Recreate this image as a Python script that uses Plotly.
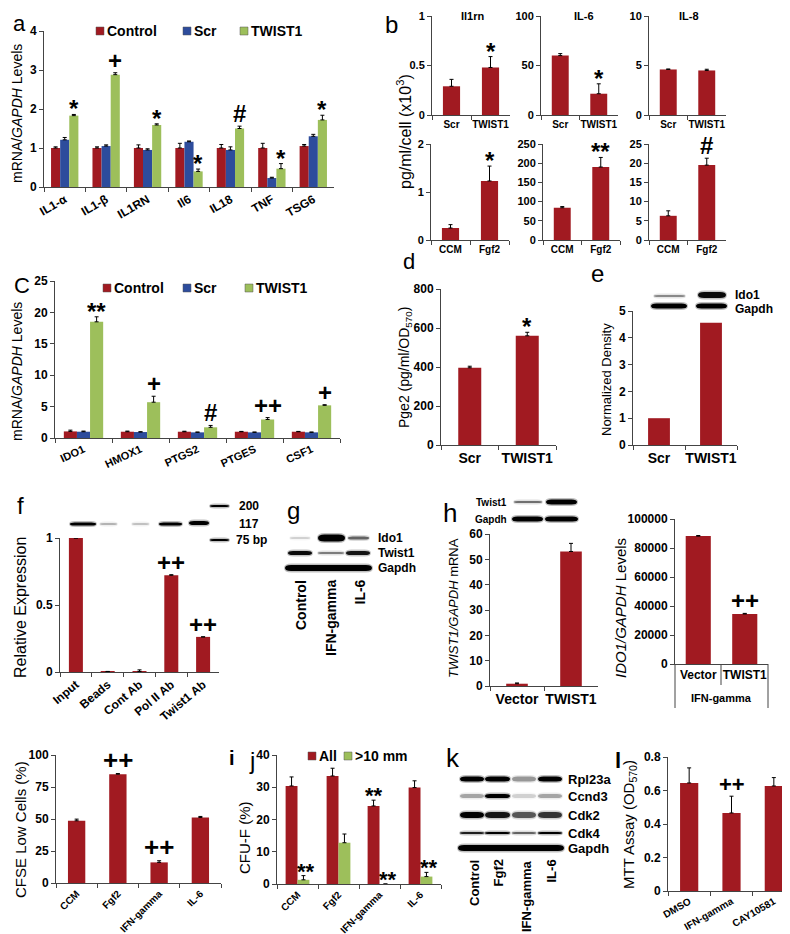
import plotly.graph_objects as go

W, H = 790, 934
FONT = "Arial, Liberation Sans, sans-serif"
RED = "#a11a21"
BLUE = "#2d4c9c"
GREEN = "#9dbf5b"
AX = "#444444"

# ---------------- data ----------------
a_cats = ["IL1-α", "IL1-β", "IL1RN", "Il6", "IL18", "TNF", "TSG6"]
a_control = [1.0, 1.0, 1.0, 1.0, 1.0, 1.0, 1.05]
a_control_err = [0.03, 0.03, 0.08, 0.12, 0.09, 0.12, 0.04]
a_scr = [1.21, 1.05, 0.95, 1.16, 0.95, 0.23, 1.3]
a_scr_err = [0.06, 0.03, 0.03, 0.02, 0.08, 0.02, 0.05]
a_twist = [1.83, 2.88, 1.59, 0.4, 1.5, 0.47, 1.72]
a_twist_err = [0.03, 0.05, 0.03, 0.06, 0.06, 0.13, 0.12]
a_marks = ["*", "+", "*", "*", "#", "*", "*"]
a_legend = ["Control", "Scr", "TWIST1"]

b_top_cats = ["Scr", "TWIST1"]
b_bot_cats = ["CCM", "Fgf2"]
b_il1rn_top = [0.29, 0.48]
b_il1rn_top_err = [0.07, 0.11]
b_il6_top = [60, 21.5]
b_il6_top_err = [2, 10]
b_il8_top = [4.6, 4.5]
b_il8_top_err = [0.05, 0.12]
b_il1rn_bot = [0.25, 1.23]
b_il1rn_bot_err = [0.07, 0.31]
b_il6_bot = [84, 190]
b_il6_bot_err = [3, 25]
b_il8_bot = [6.3, 19.5]
b_il8_bot_err = [1.3, 1.8]

c_cats = ["IDO1", "HMOX1", "PTGS2", "PTGES", "CSF1"]
c_control = [1.05, 1.0, 1.0, 1.0, 1.0]
c_control_err = [0.2, 0.1, 0.08, 0.05, 0.05]
c_scr = [1.0, 0.95, 0.9, 0.9, 0.9]
c_scr_err = [0.1, 0.05, 0.05, 0.05, 0.05]
c_twist = [18.5, 5.7, 1.7, 2.95, 5.2]
c_twist_err = [0.8, 0.95, 0.3, 0.3, 0.1]
c_marks = ["**", "+", "#", "++", "+"]

d_cats = ["Scr", "TWIST1"]
d_vals = [396, 560]
d_err = [8, 18]

e_cats = ["Scr", "TWIST1"]
e_vals = [1.0, 4.56]

f_cats = ["Input", "Beads", "Cont Ab", "Pol II Ab", "Twist1 Ab"]
f_vals = [1.0, 0.004, 0.004, 0.722, 0.262]
f_err = [0.0, 0.0, 0.012, 0.004, 0.0]

h1_cats = ["Vector", "TWIST1"]
h1_vals = [0.9, 53.1]
h1_err = [0.3, 3.2]
h2_cats = ["Vector", "TWIST1"]
h2_vals = [88200, 34500]
h2_err = [400, 400]

i_cats = ["CCM", "Fgf2", "IFN-gamma", "IL-6"]
i_vals = [48.6, 85.0, 16.1, 51.2]
i_err = [1.3, 0.5, 1.3, 0.8]

j_cats = ["CCM", "Fgf2", "IFN-gamma", "IL-6"]
j_all = [30.4, 33.5, 24.2, 29.9]
j_all_err = [2.8, 2.4, 1.8, 2.1]
j_big = [1.3, 12.8, 0.0, 2.3]
j_big_err = [1.3, 2.7, 0.0, 1.3]
j_legend = ["All", ">10 mm"]

l_cats = ["DMSO", "IFN-gamma", "CAY10581"]
l_vals = [0.645, 0.466, 0.627]
l_err = [0.09, 0.1, 0.05]

# ---------------- helpers ----------------
fig = go.Figure()
layout = {}
ann = []
shapes = []


def xr(n):
    return "x" if n == 1 else f"x{n}"


def yr(n):
    return "y" if n == 1 else f"y{n}"


def axes(n, x0, x1, ytop, ybot, cats, yrange, tickvals, xfont=11, yfont=11,
         tickangle=0, tickformat=None, xticks="outside"):
    kx = "xaxis" if n == 1 else f"xaxis{n}"
    ky = "yaxis" if n == 1 else f"yaxis{n}"
    layout[kx] = dict(domain=[x0 / W, x1 / W], anchor=yr(n), type="category",
                      categoryorder="array", categoryarray=cats,
                      range=[-0.5, len(cats) - 0.5], showline=True, linecolor=AX,
                      linewidth=1, ticks=xticks, tickson="boundaries", ticklen=4,
                      tickcolor=AX, tickangle=tickangle, showgrid=False, zeroline=False,
                      automargin=False, fixedrange=True,
                      tickfont=dict(family=FONT, size=xfont, color="black", weight="bold"))
    layout[ky] = dict(domain=[1 - ybot / H, 1 - ytop / H], anchor=xr(n), range=yrange,
                      tickvals=tickvals, showline=True, linecolor=AX, linewidth=1,
                      ticks="outside", ticklen=4, tickcolor=AX, showgrid=False,
                      zeroline=False, automargin=False, fixedrange=True,
                      tickformat=tickformat,
                      tickfont=dict(family=FONT, size=yfont, color="black", weight="bold"))


def bar(n, cats, vals, errs, color, width, offset=None):
    ed = dict(visible=False)
    if errs is not None:
        ed = dict(type="data", array=errs, arrayminus=[0] * len(errs), symmetric=False,
                  color="black", thickness=1, width=2, visible=True)
    fig.add_trace(go.Bar(x=cats, y=vals, xaxis=xr(n), yaxis=yr(n), width=width,
                         offset=offset, showlegend=False,
                         marker=dict(color=color, line=dict(width=0)), error_y=ed))


SHIFT = {"*": -10, "**": -10, "+": -3, "++": -3, "#": -3}


def mark(n, x, y, text, size=22):
    ann.append(dict(text=text, x=x, y=y, xref=xr(n), yref=yr(n), showarrow=False,
                    xanchor="center", yanchor="bottom", yshift=SHIFT.get(text, -3),
                    font=dict(family=FONT, size=size, color="black", weight="bold")))


def T(text, x, y, size=12, bold=True, xa="center", ya="middle", angle=0):
    ann.append(dict(text=text, x=x / W, y=1 - y / H, xref="paper", yref="paper",
                    showarrow=False, xanchor=xa, yanchor=ya, textangle=angle,
                    font=dict(family=FONT, size=size, color="black",
                              weight="bold" if bold else "normal")))


def X(v):
    return v / W


def Y(v):
    return 1 - v / H


def lens(x0, x1, yc, h):
    r = min(h / 2 + 2, (x1 - x0) / 4)
    y0, y1 = yc - h / 2, yc + h / 2
    return (f"M{X(x0 + r)},{Y(y0)} L{X(x1 - r)},{Y(y0)} "
            f"Q{X(x1 + 1)},{Y(y0)} {X(x1 + 1)},{Y(yc)} "
            f"Q{X(x1 + 1)},{Y(y1)} {X(x1 - r)},{Y(y1)} "
            f"L{X(x0 + r)},{Y(y1)} Q{X(x0 - 1)},{Y(y1)} {X(x0 - 1)},{Y(yc)} "
            f"Q{X(x0 - 1)},{Y(y0)} {X(x0 + r)},{Y(y0)} Z")


def band(x0, x1, yc, h, op=1.0):
    shapes.append(dict(type="path", xref="paper", yref="paper", path=lens(x0 - 1, x1 + 1, yc, h + 3),
                       fillcolor=f"rgba(0,0,0,{op * 0.25:.3f})", line=dict(width=0)))
    shapes.append(dict(type="path", xref="paper", yref="paper", path=lens(x0, x1, yc, h),
                       fillcolor=f"rgba(0,0,0,{op:.3f})", line=dict(width=0)))


def vline(x, y0, y1):
    shapes.append(dict(type="line", xref="paper", yref="paper", x0=X(x), x1=X(x),
                       y0=Y(y0), y1=Y(y1), line=dict(color=AX, width=1)))


def legend_item(x, y, color, text, size=14):
    shapes.append(dict(type="rect", xref="paper", yref="paper", x0=X(x), x1=X(x + 8),
                       y0=Y(y + 4), y1=Y(y - 4), fillcolor=color,
                       line=dict(width=0.5, color="#555555")))
    T(text, x + 9, y, size, True, xa="left")


# ---------------- panel a ----------------
axes(1, 36, 326, 23, 179, a_cats, [0, 4], [0, 1, 2, 3, 4], xfont=12, yfont=12, tickangle=-30)
bw = 0.22
bar(1, a_cats, a_control, a_control_err, RED, bw, -1.5 * bw)
bar(1, a_cats, a_scr, a_scr_err, BLUE, bw, -0.5 * bw)
bar(1, a_cats, a_twist, a_twist_err, GREEN, bw, 0.5 * bw)
for k, m in enumerate(a_marks):
    mark(1, k + bw, a_twist[k] + a_twist_err[k], m, 24)
for xx, col, lab in zip([88, 175, 232], [RED, BLUE, GREEN], a_legend):
    legend_item(xx, 23, col, lab)
T("a", 11, 15, 22, False)
T("mRNA/<i>GAPDH</i> Levels", 9, 106, 14, False, angle=-90)

# ---------------- panel b ----------------
bwb = 0.44
panels_b = [
    (2, 424, 502, 8, 107, b_top_cats, [0, 1], [0, 0.5, 1], b_il1rn_top, b_il1rn_top_err, "*"),
    (3, 533, 610, 8, 107, b_top_cats, [0, 100], [0, 50, 100], b_il6_top, b_il6_top_err, "*"),
    (4, 641, 718, 8, 107, b_top_cats, [0, 10], [0, 5, 10], b_il8_top, b_il8_top_err, None),
    (5, 423, 501, 136, 232, b_bot_cats, [0, 2], [0, 1, 2], b_il1rn_bot, b_il1rn_bot_err, "*"),
    (6, 535, 612, 136, 232, b_bot_cats, [0, 250], [0, 50, 100, 150, 200, 250], b_il6_bot, b_il6_bot_err, "**"),
    (7, 641, 718, 136, 232, b_bot_cats, [0, 25], [0, 5, 10, 15, 20, 25], b_il8_bot, b_il8_bot_err, "#"),
]
for n, x0, x1, yt, yb, cats, rng, tv, vals, errs, m in panels_b:
    axes(n, x0, x1, yt, yb, cats, rng, tv, xfont=10, yfont=11)
    bar(n, cats, vals, errs, RED, bwb)
    if m:
        mark(n, 1, vals[1] + errs[1], m, 24)
T("Il1rn", 465, 8, 11)
T("IL-6", 576, 8, 11)
T("IL-8", 681, 8, 11)
T("b", 383, 16, 24, False)
T("pg/ml/cell (x10<sup>3</sup>)", 396, 124, 16, False, angle=-90)

# ---------------- panel c ----------------
axes(8, 47, 332, 273, 430, c_cats, [0, 25], [0, 5, 10, 15, 20, 25], xfont=11, yfont=12, tickangle=-25)
cw = 0.23
bar(8, c_cats, c_control, c_control_err, RED, cw, -1.5 * cw)
bar(8, c_cats, c_scr, c_scr_err, BLUE, cw, -0.5 * cw)
bar(8, c_cats, c_twist, c_twist_err, GREEN, cw, 0.5 * cw)
for k, m in enumerate(c_marks):
    mark(8, k + cw, c_twist[k] + c_twist_err[k], m, 24)
for xx, col, lab in zip([95, 175, 237], [RED, BLUE, GREEN], a_legend):
    legend_item(xx, 280, col, lab)
T("C", 14, 277, 22, False)
T("mRNA/<i>GAPDH</i> Levels", 9, 364, 14, False, angle=-90)

# ---------------- panel d ----------------
axes(9, 433, 548, 281, 437, d_cats, [0, 800], [0, 200, 400, 600, 800], xfont=14, yfont=12)
bar(9, d_cats, d_vals, d_err, RED, 0.4)
mark(9, 1, d_vals[1] + d_err[1], "*", 24)
T("d", 401, 253, 22, False)
T("Pge2 (pg/ml/OD<sub>570</sub>)", 397, 360, 14, False, angle=-90)

# ---------------- panel e ----------------
axes(10, 625, 729, 303, 437, e_cats, [0, 5], [0, 1, 2, 3, 4, 5], xfont=14, yfont=12)
bar(10, e_cats, e_vals, None, RED, 0.42)
T("e", 589, 266, 24, False)
T("Normalized Density", 598, 372, 13, False, angle=-90)
band(647, 676, 288, 2, 0.4)
band(691, 717, 287, 6, 0.95)
band(644, 678, 298, 5, 1.0)
band(689, 718, 298, 5, 1.0)
T("Ido1", 725, 287, 12, True, xa="left")
T("Gapdh", 725, 301, 12, True, xa="left")

# ---------------- panel f ----------------
axes(11, 52, 211, 530, 664, f_cats, [0, 1], [0, 0.5, 1], xfont=12, yfont=12, tickangle=-40)
bar(11, f_cats, f_vals, f_err, RED, 0.44)
mark(11, 3, f_vals[3] + f_err[3], "++", 24)
mark(11, 4, f_vals[4] + f_err[4], "++", 24)
T("f", 12, 497, 24, False)
T("Relative Expression", 12, 600, 16, False, angle=-90)
band(63, 87, 516, 3, 1.0)
band(93, 108, 516, 2, 0.25)
band(125, 140, 516, 2, 0.2)
band(152, 173, 516, 3, 1.0)
band(182, 200, 515, 4, 1.0)
band(203, 220, 498, 2, 1.0)
band(203, 220, 532, 2, 1.0)
T("200", 229, 498, 12, True, xa="left")
T("117", 229, 516, 12, True, xa="left")
T("75 bp", 226, 532, 12, True, xa="left")

# ---------------- panel g (blot) ----------------
T("g", 285, 503, 24, False)
band(283, 301, 530, 2, 0.15)
band(311, 336, 530, 7, 1.0)
band(341, 360, 530, 3, 0.55)
band(281, 303, 545, 4, 0.95)
band(311, 335, 545, 2, 0.45)
band(339, 361, 545, 4, 0.9)
band(278, 363, 560, 6, 1.0)
T("Ido1", 368, 530, 12, True, xa="left")
T("Twist1", 368, 545, 12, True, xa="left")
T("Gapdh", 368, 560, 12, True, xa="left")
T("Control", 293, 570, 14, True, ya="top", angle=-90)
T("IFN-gamma", 323, 570, 14, True, ya="top", angle=-90)
T("IL-6", 351, 570, 14, True, ya="top", angle=-90)

# ---------------- panel h ----------------
axes(12, 482, 590, 526, 678, h1_cats, [0, 60], [0, 10, 20, 30, 40, 50, 60], xfont=14, yfont=12)
bar(12, h1_cats, h1_vals, h1_err, RED, 0.4)
T("h", 442, 505, 26, False)
T("<i>TWIST1/GAPDH</i> mRNA", 445, 600, 13, False, angle=-90)
band(507, 533, 494, 2, 0.5)
band(539, 568, 494, 5, 1.0)
band(505, 534, 511, 5, 1.0)
band(538, 569, 511, 5, 1.0)
T("Twist1", 501, 494, 10, True, xa="right")
T("Gapdh", 501, 511, 10, True, xa="right")

axes(13, 667, 760, 511, 656, h2_cats, [0, 100000], [0, 20000, 40000, 60000, 80000, 100000],
     xfont=12, yfont=12, tickformat="d", xticks="")
bar(13, h2_cats, h2_vals, h2_err, RED, 0.54)
mark(13, 1, h2_vals[1] + h2_err[1], "++", 24)
vline(667, 656, 700)
vline(713, 656, 677)
vline(760, 656, 700)
T("IFN-gamma", 713, 690, 11, True)
T("<i>IDO1/GAPDH</i> Levels", 612, 600, 15, False, angle=-90)

# ---------------- panel i ----------------
axes(14, 48, 213, 747, 875, i_cats, [0, 100], [0, 25, 50, 75, 100], xfont=10, yfont=12, tickangle=-45)
bar(14, i_cats, i_vals, i_err, RED, 0.42)
mark(14, 1, i_vals[1] + i_err[1], "++", 26)
mark(14, 2, i_vals[2] + i_err[2], "++", 26)
T("i", 224, 750, 20, True)
T("CFSE Low Cells (%)", 12, 822, 15, False, angle=-90)

# ---------------- panel j ----------------
axes(15, 269, 433, 747, 876, j_cats, [0, 40], [0, 10, 20, 30, 40], xfont=10, yfont=12, tickangle=-45)
jw = 0.29
bar(15, j_cats, j_all, j_all_err, RED, jw, -jw)
bar(15, j_cats, j_big, j_big_err, GREEN, jw, 0.0)
mark(15, 0 + jw / 2 + 0.05, j_big[0] + j_big_err[0], "**")
mark(15, 2 + jw / 2 + 0.05, j_big[2] + j_big_err[2], "**")
mark(15, 3 + jw / 2 + 0.05, j_big[3] + j_big_err[3], "**")
mark(15, 2 - jw / 2, j_all[2] + j_all_err[2], "**")
for xx, col, lab in zip([300, 336], [RED, GREEN], j_legend):
    legend_item(xx, 748, col, lab)
T("j", 244, 752, 24, False)
T("CFU-F (%)", 236, 830, 15, False, angle=-90)

# ---------------- panel k (blot) ----------------
T("k", 445, 750, 26, False)
lanes = [(453, 475), (478, 501), (505, 527), (531, 553)]
rpl = [1.0, 1.0, 0.35, 1.0]
ccnd = [0.3, 1.0, 0.15, 0.3]
cdk2 = [1.0, 0.9, 0.6, 0.75]
cdk4 = [0.85, 1.0, 0.55, 1.0]
for (lx0, lx1), o1, o2, o3, o4 in zip(lanes, rpl, ccnd, cdk2, cdk4):
    band(lx0, lx1, 771, 5, o1)
    band(lx0, lx1, 788, 4, o2)
    band(lx0, lx1, 807, 6, o3)
    band(lx0, lx1, 825, 2, o4)
band(451, 555, 840, 6, 1.0)
T("Rpl23a", 558, 771, 13, True, xa="left")
T("Ccnd3", 558, 788, 13, True, xa="left")
T("Cdk2", 558, 807, 13, True, xa="left")
T("Cdk4", 558, 825, 13, True, xa="left")
T("Gapdh", 558, 840, 13, True, xa="left")
T("Control", 466, 850, 13, True, ya="top", angle=-90)
T("Fgf2", 490, 850, 13, True, ya="top", angle=-90)
T("IFN-gamma", 518, 850, 13, True, ya="top", angle=-90)
T("IL-6", 543, 850, 13, True, ya="top", angle=-90)

# ---------------- panel l ----------------
axes(16, 660, 787, 749, 883, l_cats, [0, 0.8], [0, 0.2, 0.4, 0.6, 0.8], xfont=10, yfont=12, tickangle=-30)
bar(16, l_cats, l_vals, l_err, RED, 0.43)
mark(16, 1, l_vals[1] + l_err[1], "++")
T("l", 610, 752, 22, True)
T("MTT Assay (OD<sub>570</sub>)", 621, 817, 15, False, angle=-90)

layout.update(
    width=W, height=H, margin=dict(l=0, r=0, t=0, b=0), template="none",
    paper_bgcolor="white", plot_bgcolor="rgba(0,0,0,0)", barmode="overlay",
    showlegend=False, annotations=ann, shapes=shapes,
    font=dict(family=FONT, color="black"),
)
fig.update_layout(**layout)
fig.write_html("out.html")
